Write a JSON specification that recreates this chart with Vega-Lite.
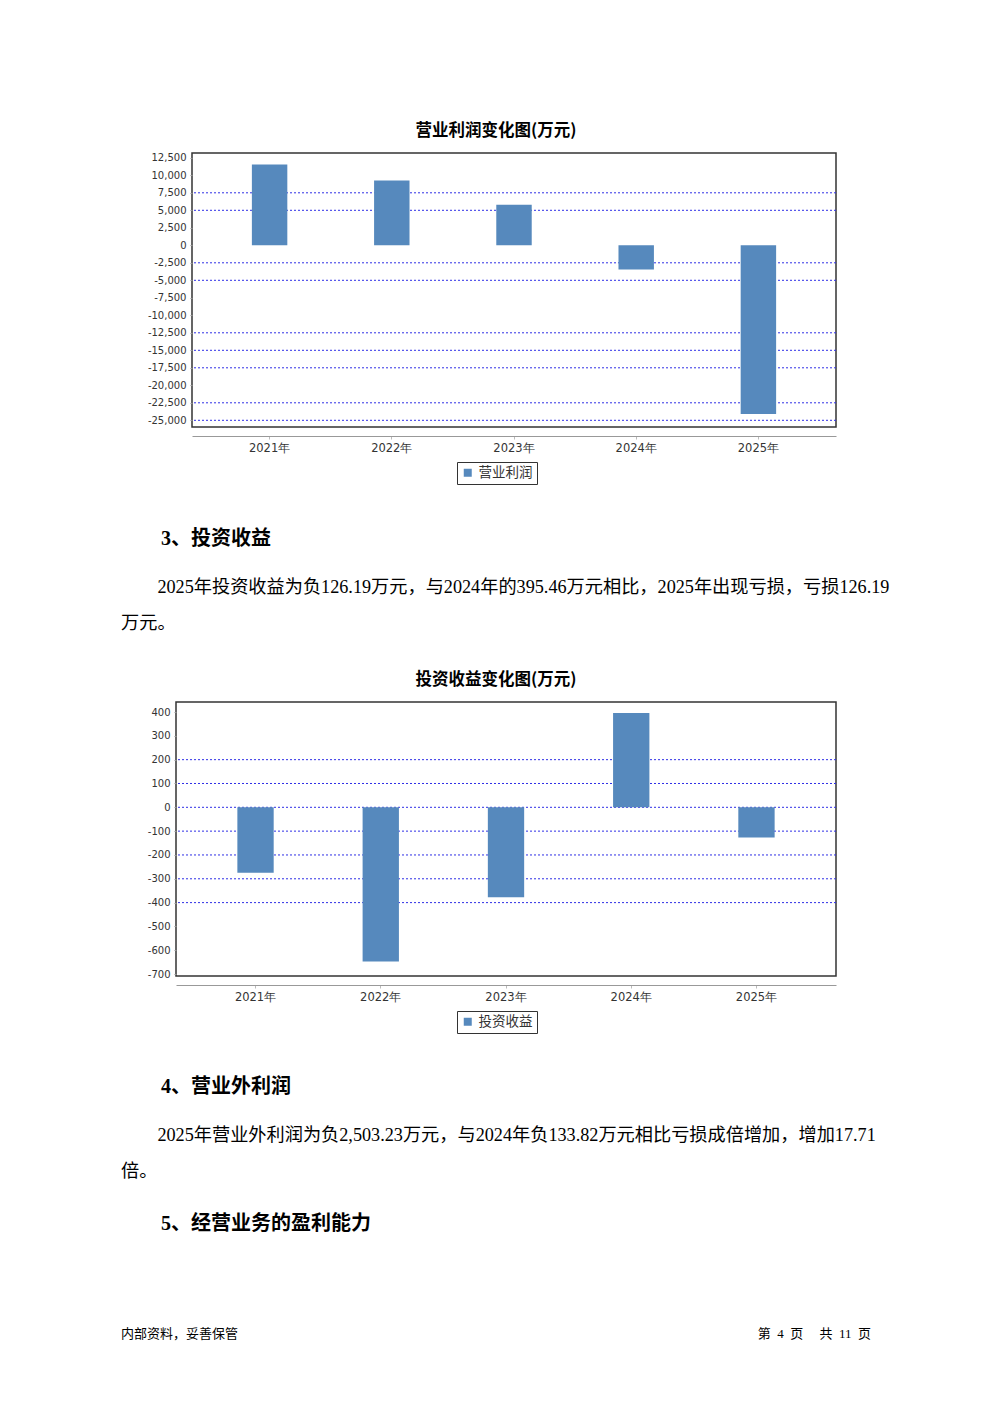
{
  "$schema": "https://vega.github.io/schema/vega-lite/v6.json",
  "background": "white",
  "padding": {"left": 121, "top": 122, "right": 0, "bottom": 0},
  "spacing": 37,
  "resolve": {"scale": {"color": "independent"}, "legend": {"color": "independent"}},
  "config": {
    "font": "DejaVu Sans",
    "view": {"stroke": "#333333", "strokeWidth": 1.5},
    "title": {"color": "#000000"}
  },
  "datasets": {
    "profit": [
      {"year": "2021年", "value": 11530},
      {"year": "2022年", "value": 9240},
      {"year": "2023年", "value": 5810},
      {"year": "2024年", "value": -3470},
      {"year": "2025年", "value": -24090}
    ],
    "grid1": [
      {"value": 7500}, {"value": 5000}, {"value": -2500}, {"value": -5000},
      {"value": -12500}, {"value": -15000}, {"value": -17500}, {"value": -22500}, {"value": -25000}
    ],
    "invest": [
      {"year": "2021年", "value": -275},
      {"year": "2022年", "value": -647},
      {"year": "2023年", "value": -378},
      {"year": "2024年", "value": 395.46},
      {"year": "2025年", "value": -126.19}
    ],
    "grid2": [
      {"value": 200}, {"value": 100}, {"value": 0}, {"value": -100},
      {"value": -200}, {"value": -300}, {"value": -400}
    ],
    "footer": [
      {"side": "left", "label": "内部资料，妥善保管"},
      {"side": "right", "label": "第\u00a0\u00a04\u00a0\u00a0页\u00a0\u00a0\u00a0\u00a0\u00a0共\u00a0\u00a011\u00a0\u00a0页"}
    ]
  },
  "vconcat": [
    {
      "bounds": "flush",
      "spacing": 70,
      "hconcat": [
        {
          "width": 1,
          "height": 1,
          "view": {"stroke": null},
          "data": {"values": []},
          "mark": "text",
          "encoding": {}
        },
        {
          "width": 644,
          "height": 274,
          "title": {
            "text": "营业利润变化图(万元)",
            "font": "Noto Sans CJK SC",
            "fontSize": 16.5,
            "fontWeight": "bold",
            "anchor": "middle",
            "frame": "group",
            "dx": -18,
            "offset": 13
          },
          "encoding": {
            "y": {
              "field": "value",
              "type": "quantitative",
              "scale": {"domain": [-25957, 13186], "nice": false, "zero": false},
              "axis": {
                "title": null,
                "values": [12500, 10000, 7500, 5000, 2500, 0, -2500, -5000, -7500, -10000, -12500, -15000, -17500, -20000, -22500, -25000],
                "labelExpr": "replace(format(datum.value, ',d'), '\u2212', '-')",
                "grid": false,
                "domain": false,
                "tickSize": 2,
                "tickColor": "#999999",
                "labelPadding": 4,
                "labelFontSize": 10,
                "labelColor": "#333333"
              }
            }
          },
          "layer": [
            {
              "data": {"name": "grid1"},
              "mark": {"type": "rule", "stroke": "#2f2fe6", "strokeDash": [2, 2], "strokeWidth": 1}
            },
            {
              "data": {"name": "profit"},
              "mark": {"type": "bar"},
              "encoding": {
                "x": {
                  "field": "year",
                  "type": "nominal",
                  "scale": {"paddingInner": 0.71, "paddingOuter": 0.49},
                  "axis": {
                    "title": null,
                    "labelAngle": 0,
                    "offset": 9,
                    "domainColor": "#999999",
                    "tickColor": "#bbbbbb",
                    "tickSize": 3,
                    "labelFontSize": 11.5,
                    "labelColor": "#333333",
                    "labelPadding": 3,
                    "minExtent": 54
                  }
                },
                "color": {
                  "datum": "营业利润",
                  "type": "nominal",
                  "scale": {"range": ["#5689BD"]},
                  "legend": {
                    "orient": "none",
                    "legendX": 336,
                    "legendY": 309,
                    "title": null,
                    "strokeColor": "#333333",
                    "padding": 4,
                    "symbolType": "square",
                    "symbolSize": 64,
                    "symbolStrokeWidth": 0,
                    "labelFont": "Noto Sans CJK SC",
                    "labelFontSize": 13.5,
                    "labelColor": "#333333",
                    "labelOffset": 4
                  }
                }
              }
            }
          ]
        }
      ]
    },
    {
      "width": 771,
      "height": 1,
      "view": {"stroke": null},
      "data": {"values": []},
      "mark": "text",
      "encoding": {},
      "title": {
        "text": "\u200b\u3000\u30003、投资收益",
        "subtitle": ["\u200b\u3000\u30002025年投资收益为负126.19万元，与2024年的395.46万元相比，2025年出现亏损，亏损126.19", "万元。"],
        "anchor": "start",
        "frame": "group",
        "offset": 0,
        "font": "'Liberation Serif', 'Noto Sans CJK SC'",
        "fontSize": 20,
        "fontWeight": "bold",
        "subtitleFont": "'Liberation Serif', 'Noto Sans CJK SC'",
        "subtitleFontSize": 18.2,
        "subtitleFontWeight": "normal",
        "subtitleColor": "#000000",
        "subtitlePadding": 30,
        "subtitleLineHeight": 36
      }
    },
    {
      "bounds": "flush",
      "spacing": 54,
      "hconcat": [
        {
          "width": 1,
          "height": 1,
          "view": {"stroke": null},
          "data": {"values": []},
          "mark": "text",
          "encoding": {}
        },
        {
          "width": 660,
          "height": 274,
          "title": {
            "text": "投资收益变化图(万元)",
            "font": "Noto Sans CJK SC",
            "fontSize": 16.5,
            "fontWeight": "bold",
            "anchor": "middle",
            "frame": "group",
            "dx": -10,
            "offset": 14
          },
          "encoding": {
            "y": {
              "field": "value",
              "type": "quantitative",
              "scale": {"domain": [-708, 442], "nice": false, "zero": false},
              "axis": {
                "title": null,
                "values": [400, 300, 200, 100, 0, -100, -200, -300, -400, -500, -600, -700],
                "labelExpr": "replace(format(datum.value, 'd'), '\u2212', '-')",
                "grid": false,
                "domain": false,
                "tickSize": 2,
                "tickColor": "#999999",
                "labelPadding": 4,
                "labelFontSize": 10,
                "labelColor": "#333333"
              }
            }
          },
          "layer": [
            {
              "data": {"name": "grid2"},
              "mark": {"type": "rule", "stroke": "#2f2fe6", "strokeDash": [2, 2], "strokeWidth": 1}
            },
            {
              "data": {"name": "invest"},
              "mark": {"type": "bar"},
              "encoding": {
                "x": {
                  "field": "year",
                  "type": "nominal",
                  "scale": {"paddingInner": 0.71, "paddingOuter": 0.49},
                  "axis": {
                    "title": null,
                    "labelAngle": 0,
                    "offset": 9,
                    "domainColor": "#999999",
                    "tickColor": "#bbbbbb",
                    "tickSize": 3,
                    "labelFontSize": 11.5,
                    "labelColor": "#333333",
                    "labelPadding": 3,
                    "minExtent": 53
                  }
                },
                "color": {
                  "datum": "投资收益",
                  "type": "nominal",
                  "scale": {"range": ["#5689BD"]},
                  "legend": {
                    "orient": "none",
                    "legendX": 336,
                    "legendY": 309,
                    "title": null,
                    "strokeColor": "#333333",
                    "padding": 4,
                    "symbolType": "square",
                    "symbolSize": 64,
                    "symbolStrokeWidth": 0,
                    "labelFont": "Noto Sans CJK SC",
                    "labelFontSize": 13.5,
                    "labelColor": "#333333",
                    "labelOffset": 4
                  }
                }
              }
            }
          ]
        }
      ]
    },
    {
      "spacing": 33,
      "vconcat": [
        {
          "width": 771,
          "height": 1,
          "view": {"stroke": null},
          "data": {"values": []},
          "mark": "text",
          "encoding": {},
          "title": {
            "text": "\u200b\u3000\u30004、营业外利润",
            "subtitle": ["\u200b\u3000\u30002025年营业外利润为负2,503.23万元，与2024年负133.82万元相比亏损成倍增加，增加17.71", "倍。"],
            "anchor": "start",
            "frame": "group",
            "offset": 0,
            "font": "'Liberation Serif', 'Noto Sans CJK SC'",
            "fontSize": 20,
            "fontWeight": "bold",
            "subtitleFont": "'Liberation Serif', 'Noto Sans CJK SC'",
            "subtitleFontSize": 18.2,
            "subtitleFontWeight": "normal",
            "subtitleColor": "#000000",
            "subtitlePadding": 30,
            "subtitleLineHeight": 36
          }
        },
        {
          "width": 750,
          "height": 200,
          "view": {"stroke": null},
          "data": {"name": "footer"},
          "title": {
            "text": "\u200b\u3000\u30005、经营业务的盈利能力",
            "anchor": "start",
            "frame": "group",
            "offset": 0,
            "font": "'Liberation Serif', 'Noto Sans CJK SC'",
            "fontSize": 20,
            "fontWeight": "bold"
          },
          "encoding": {
            "x": {
              "field": "side",
              "type": "nominal",
              "scale": {"type": "point", "domain": ["left", "right"], "padding": 0},
              "axis": null
            },
            "text": {"field": "label"}
          },
          "layer": [
            {
              "transform": [{"filter": "datum.side === 'left'"}],
              "mark": {"type": "text", "align": "left", "baseline": "middle", "font": "'Liberation Serif', 'Noto Sans CJK SC'", "fontSize": 13, "color": "#000000"}
            },
            {
              "transform": [{"filter": "datum.side === 'right'"}],
              "mark": {"type": "text", "align": "right", "baseline": "middle", "font": "'Liberation Serif', 'Noto Sans CJK SC'", "fontSize": 13, "color": "#000000"}
            }
          ]
        }
      ]
    }
  ]
}
